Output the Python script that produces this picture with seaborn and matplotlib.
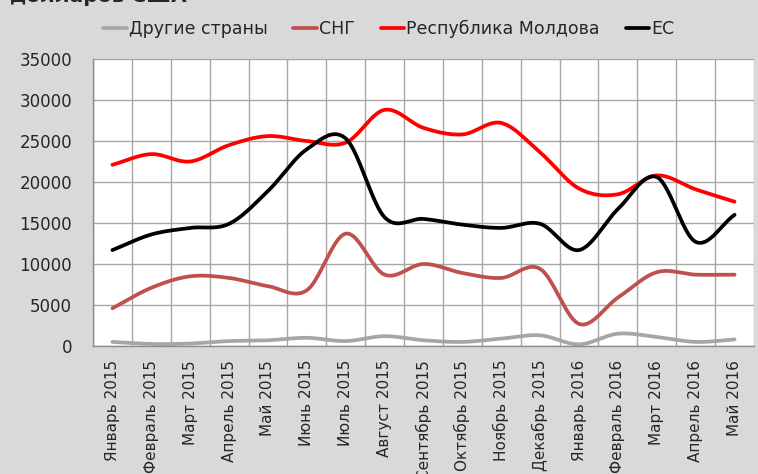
import numpy as np
import pandas as pd
import matplotlib
matplotlib.use("Agg")
import matplotlib.pyplot as plt
import seaborn as sns

# data
months = ["Январь 2015", "Февраль 2015", "Март 2015", "Апрель 2015", "Май 2015",
          "Июнь 2015", "Июль 2015", "Август 2015", "Сентябрь 2015", "Октябрь 2015",
          "Ноябрь 2015", "Декабрь 2015", "Январь 2016", "Февраль 2016", "Март 2016",
          "Апрель 2016", "Май 2016"]
other = [500, 250, 300, 600, 700, 1000, 600, 1200, 700, 500, 900, 1300, 200, 1500, 1100, 500, 800]
cis = [4600, 7100, 8500, 8300, 7300, 6800, 13700, 8700, 10000, 8900, 8300, 9400, 2700, 5900, 9000, 8700, 8700]
moldova = [22100, 23400, 22500, 24500, 25600, 25000, 24800, 28800, 26600, 25800, 27200, 23600, 19200, 18500, 20800, 19100, 17600]
eu = [11700, 13600, 14400, 14900, 18900, 24000, 25300, 15700, 15500, 14800, 14400, 14900, 11700, 16700, 20600, 12700, 16000]

series = {"Другие страны": other, "СНГ": cis, "Республика Молдова": moldova, "ЕС": eu}
colors = {"Другие страны": "#a6a6a6", "СНГ": "#c0504d", "Республика Молдова": "#ff0000", "ЕС": "#000000"}


def smooth(y, n=24):
    # catmull-rom curve through the points, like Excel's smoothed line
    y = np.asarray(y, dtype=float)
    p = np.concatenate([[2 * y[0] - y[1]], y, [2 * y[-1] - y[-2]]])
    xs, ys = [], []
    for i in range(len(y) - 1):
        t = np.linspace(0, 1, n, endpoint=False)
        p0, p1, p2, p3 = p[i], p[i + 1], p[i + 2], p[i + 3]
        v = 0.5 * (2 * p1 + (-p0 + p2) * t + (2 * p0 - 5 * p1 + 4 * p2 - p3) * t ** 2
                   + (-p0 + 3 * p1 - 3 * p2 + p3) * t ** 3)
        xs.append(i + t)
        ys.append(v)
    xs.append([len(y) - 1])
    ys.append([y[-1]])
    return np.concatenate(xs), np.concatenate(ys)


rows = []
for name, vals in series.items():
    sx, sy = smooth(vals)
    rows.append(pd.DataFrame({"x": sx, "y": sy, "series": name}))
df = pd.concat(rows, ignore_index=True)

sns.set_style("white")
plt.rcParams["font.family"] = ["DejaVu Sans"]

bg = "#d9d9d9"
fig = plt.figure(figsize=(7.58, 4.74), dpi=100, facecolor=bg)
ax = fig.add_axes([93 / 758, 1 - 346 / 474, (754 - 93) / 758, (346 - 59) / 474])
ax.set_facecolor("white")

sns.lineplot(data=df, x="x", y="y", hue="series", palette=colors,
             hue_order=list(series.keys()), linewidth=2.7, ax=ax, sort=False)

ax.set_xlim(-0.5, len(months) - 0.5)
ax.set_ylim(0, 35000)
ax.set_yticks(range(0, 35001, 5000))
ax.set_yticklabels([str(v) for v in range(0, 35001, 5000)], fontsize=12)
ax.set_xticks(np.arange(len(months)))
ax.set_xticklabels(months, rotation=90, fontsize=11)
ax.set_xticks(np.arange(-0.5, len(months), 1), minor=True)
ax.tick_params(axis="x", which="major", length=0, pad=10)
ax.tick_params(axis="x", which="minor", length=5, color="#8c8c8c", width=1)
ax.tick_params(axis="y", length=5, color="#8c8c8c", width=1, pad=10)
ax.grid(False)
ax.grid(True, axis="y", color="#a6a6a6", linewidth=1)
ax.grid(True, axis="x", which="minor", color="#a6a6a6", linewidth=1)
ax.set_axisbelow(True)
for side in ["top", "right"]:
    ax.spines[side].set_visible(False)
for side in ["left", "bottom"]:
    ax.spines[side].set_color("#8c8c8c")
    ax.spines[side].set_linewidth(1)
ax.set_xlabel("")
ax.set_ylabel("")

handles, labels = ax.get_legend_handles_labels()
ax.legend(handles, labels, ncol=4, loc="center", bbox_to_anchor=(0.513, 1 - 29 / 474),
          bbox_transform=fig.transFigure, frameon=False, fontsize=12.5,
          handlelength=1.35, handletextpad=0.12, columnspacing=1.5)

fig.text(10 / 758, 1 - 1.5 / 474, "долларов США", fontsize=14.5, fontweight="bold",
         ha="left", va="baseline")

fig.savefig("out.png", dpi=100, facecolor=bg)
